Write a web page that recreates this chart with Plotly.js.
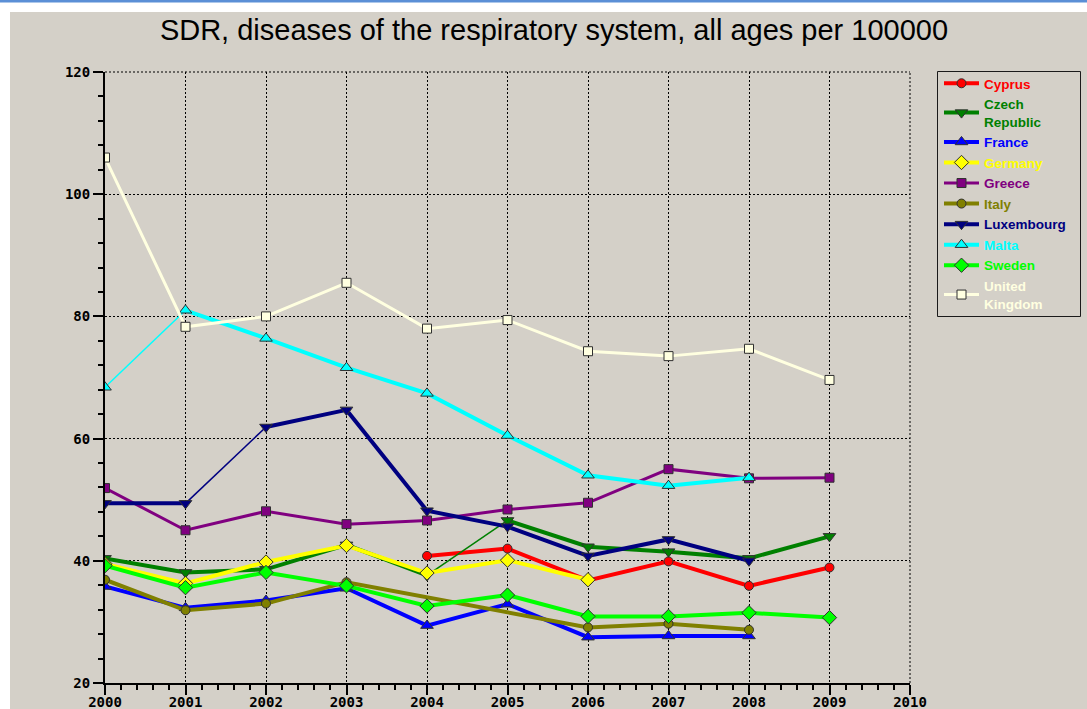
<!DOCTYPE html>
<html>
<head>
<meta charset="utf-8">
<script src="https://cdn.plot.ly/plotly-3.0.1.min.js"></script>
<style>html,body{margin:0;padding:0;background:#fff;}#chart{width:1087px;height:709px;}</style>
</head>
<body>
<div id="chart"></div>
<script>
// ---- data ----
var years = [2000, 2001, 2002, 2003, 2004, 2005, 2006, 2007, 2008, 2009];
var cyprus        = [null, null, null, null, 40.8, 42.0, 36.8, 39.9, 35.9, 38.9];
var czechRepublic = [40.4, 38.1, 38.6, 42.6, 37.6, 46.6, 42.3, 41.5, 40.4, 44.0];
var france        = [35.8, 32.3, 33.5, 35.5, 29.4, 32.9, 27.5, 27.7, 27.7, null];
var germany       = [39.5, 36.3, 39.8, 42.5, 38.0, 40.1, 36.9, null, null, null];
var greece        = [51.9, 45.0, 48.1, 46.0, 46.6, 48.4, 49.5, 55.0, 53.5, 53.6];
var italy         = [36.9, 31.9, 33.0, 36.5, null, null, 29.1, 29.7, 28.7, null];
var luxembourg    = [49.4, 49.4, 61.9, 64.7, 48.2, 45.6, 40.8, 43.5, 40.0, null];
var malta         = [68.4, 81.0, 76.4, 71.6, 67.4, 60.5, 54.0, 52.3, 53.6, null];
var sweden        = [39.2, 35.6, 38.1, 35.9, 32.6, 34.4, 30.9, 30.9, 31.5, 30.7];
var unitedKingdom = [106.0, 78.3, 80.0, 85.5, 78.0, 79.4, 74.3, 73.5, 74.7, 69.6];

var seriesNames = ["Cyprus", "Czech<br>Republic", "France", "Germany", "Greece", "Italy",
                   "Luxembourg", "Malta", "Sweden", "United<br>Kingdom"];
var seriesValues = [cyprus, czechRepublic, france, germany, greece, italy,
                    luxembourg, malta, sweden, unitedKingdom];

// ---- styles ----
var styles = [
  {color: "#ff0000", symbol: "circle", size: 9, width: 4},
  {color: "#008000", symbol: "triangle-down", size: 11, width: 4, thin: [2004]},
  {color: "#0000ff", symbol: "triangle-up", size: 11, width: 4},
  {color: "#ffff00", symbol: "diamond", size: 11, width: 4},
  {color: "#800080", symbol: "square", size: 9, width: 3},
  {color: "#808000", symbol: "circle", size: 9, width: 4, connect: true},
  {color: "#000080", symbol: "triangle-down", size: 11, width: 4, thin: [2001]},
  {color: "#00ffff", symbol: "triangle-up", size: 11, width: 4, thin: [2000]},
  {color: "#00ff00", symbol: "diamond", size: 11, width: 4},
  {color: "#ffffe0", symbol: "square", size: 9, width: 3}
];

function coloredName(name, color) {
  return name.split("<br>").map(function (p) {
    return '<span style="color:' + color + '">' + p + '</span>';
  }).join("<br>");
}

var traces = [];
seriesValues.forEach(function (vals, k) {
  var st = styles[k];
  var thin = st.thin || [];
  var xs = [], ys = [];
  for (var i = 0; i < years.length; i++) {
    xs.push(years[i]); ys.push(vals[i]);
    if (thin.indexOf(years[i]) >= 0) { xs.push(years[i] + 0.5); ys.push(null); }
  }
  thin.forEach(function (yr) {
    var i = years.indexOf(yr);
    traces.push({
      type: "scatter", mode: "lines", x: [years[i], years[i + 1]], y: [vals[i], vals[i + 1]],
      line: {color: st.color, width: 1.5}, showlegend: false, legendgroup: "g" + k,
      hoverinfo: "skip"
    });
  });
  traces.push({
    type: "scatter", mode: "lines+markers", x: xs, y: ys,
    name: coloredName(seriesNames[k], st.color),
    legendgroup: "g" + k,
    connectgaps: !!st.connect,
    line: {color: st.color, width: st.width},
    marker: {color: st.color, symbol: st.symbol, size: st.size, line: {color: "#303030", width: 1}}
  });
});

var L = 105, R = 910, T = 72, B = 683;
function px2x(p) { return (p - L) / (R - L); }
function px2y(p) { return (B - p) / (B - T); }

var tickFont = {family: "DejaVu Sans Mono", size: 14, color: "#000", weight: "bold"};

var layout = {
  width: 1087, height: 709,
  margin: {l: L, r: 1087 - R, t: T, b: 709 - B, pad: 0},
  paper_bgcolor: "#ffffff",
  plot_bgcolor: "rgba(0,0,0,0)",
  showlegend: true,
  title: {
    text: "SDR, diseases of the respiratory system, all ages per 100000",
    font: {family: "Liberation Sans, Arial, sans-serif", size: 29, color: "#000"},
    xref: "container", yref: "container", x: 554 / 1087, y: 1 - 30 / 709,
    xanchor: "center", yanchor: "middle"
  },
  xaxis: {
    range: [2000, 2010], dtick: 1, tick0: 2000, tickformat: "d",
    showline: true, linecolor: "#000", linewidth: 2,
    ticks: "outside", ticklen: 10, tickwidth: 2, tickcolor: "#000",
    ticklabelstandoff: -5,
    showgrid: true, gridcolor: "#000", gridwidth: 1, griddash: "2px,2px",
    minor: {dtick: 0.2, ticks: "outside", ticklen: 5, tickwidth: 2, tickcolor: "#000", showgrid: false},
    zeroline: false, tickfont: tickFont, fixedrange: true
  },
  yaxis: {
    range: [20, 120], dtick: 20, tick0: 20,
    showline: true, linecolor: "#000", linewidth: 2,
    ticks: "outside", ticklen: 10, tickwidth: 2, tickcolor: "#000",
    showgrid: true, gridcolor: "#000", gridwidth: 1, griddash: "2px,2px",
    minor: {dtick: 4, ticks: "outside", ticklen: 5, tickwidth: 2, tickcolor: "#000", showgrid: false},
    zeroline: false, tickfont: tickFont, fixedrange: true
  },
  legend: {
    x: px2x(939), y: px2y(68), xanchor: "left", yanchor: "top",
    bgcolor: "rgba(0,0,0,0)", borderwidth: 0,
    font: {family: "Liberation Sans, Arial, sans-serif", size: 13.5, weight: "bold"},
    itemwidth: 35, tracegroupgap: 0
  },
  shapes: [
    {type: "rect", xref: "paper", yref: "paper", layer: "below",
     x0: px2x(10), x1: px2x(1090), y0: px2y(12), y1: px2y(712),
     fillcolor: "#d4d0c8", line: {width: 0}},
    {type: "rect", xref: "paper", yref: "paper", layer: "below",
     x0: px2x(-5), x1: px2x(1092), y0: px2y(-5), y1: px2y(2.5),
     fillcolor: "#5b8fd6", line: {width: 0}},
    {type: "rect", xref: "paper", yref: "paper", layer: "below",
     x0: px2x(937.5), x1: px2x(1080.5), y0: px2y(71.5), y1: px2y(316.5),
     fillcolor: "rgba(0,0,0,0)", line: {color: "#1a1a1a", width: 1}},
    {type: "line", xref: "paper", yref: "paper", layer: "below",
     x0: 0, x1: 1, y0: 1, y1: 1, line: {color: "#000", width: 1, dash: "2px,2px"}},
    {type: "line", xref: "paper", yref: "paper", layer: "below",
     x0: 1, x1: 1, y0: 0, y1: 1, line: {color: "#000", width: 1, dash: "2px,2px"}}
  ]
};

Plotly.newPlot("chart", traces, layout, {displayModeBar: false, staticPlot: true});
</script>
</body>
</html>
